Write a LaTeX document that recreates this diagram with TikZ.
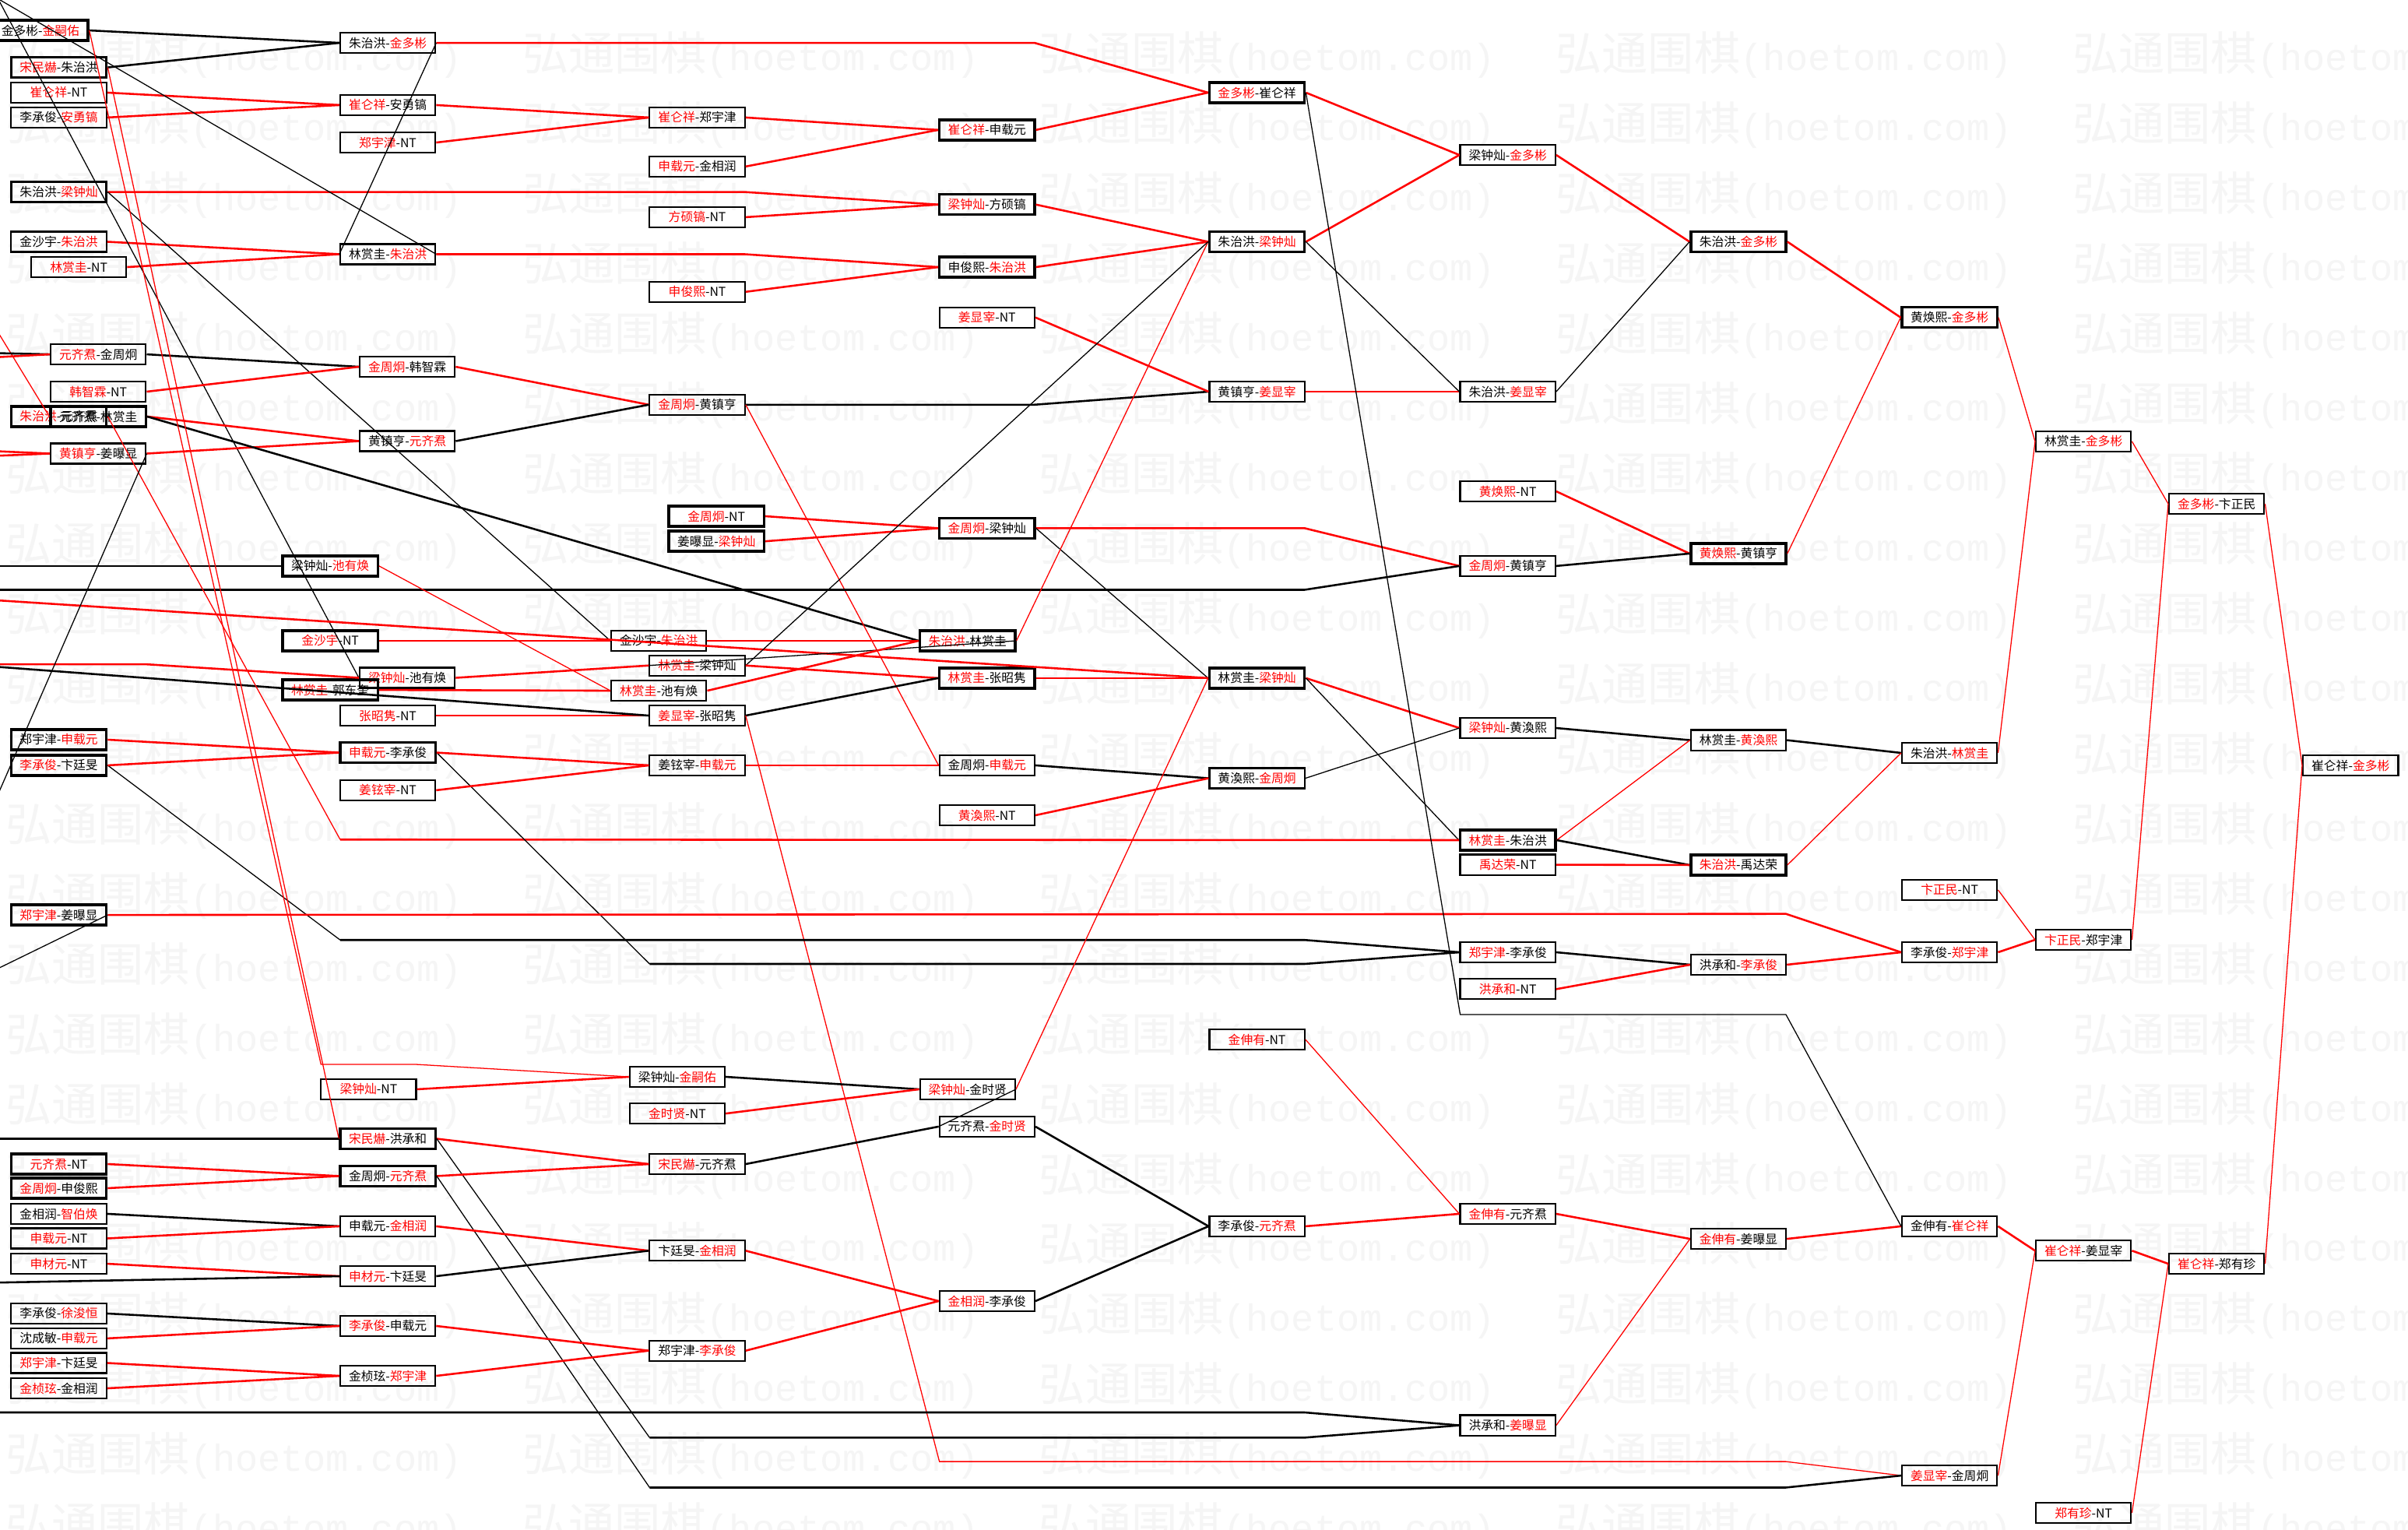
\documentclass[tikz,border=0pt]{standalone}
\usepackage{fontspec}
\setmainfont{Noto Sans CJK SC}
\newfontfamily\wmmono{Liberation Mono}
\newcommand\rnm[1]{\textcolor{red}{#1}}
\tikzset{
 bx/.style={draw=black, line width=1.1pt, minimum width=62pt, minimum height=13.2pt, inner sep=0pt, font=\fontsize{8}{9}\selectfont},
 bold/.style={line width=1.7pt},
 rk/.style={draw=red, line width=1.3pt},
 rt/.style={draw=red, line width=0.65pt},
 bk/.style={draw=black, line width=1.3pt},
 bt/.style={draw=black, line width=0.65pt},
 wm/.style={text=black!4, anchor=west, inner sep=0pt},
}
\begin{document}
\begin{tikzpicture}[x=1pt,y=-1pt]
\useasboundingbox (0,0) rectangle (1568,996);
\clip (0,0) rectangle (1568,996);
\fill[white] (0,0) rectangle (1568,996);
% watermark
\foreach \r in {0,...,21}{\foreach \c in {-1,...,4}{
 \node[wm] at ({3.5+336.5*\c},{36+45.6*\r}) {\fontsize{30}{30}\selectfont 弘通围棋{\wmmono\fontsize{24.6}{30}\selectfont (hoetom.com)}};}}
% ---------- nodes ----------
\node[bx,bold] (a1) at (26.3,19.8) {金多彬-\rnm{金嗣佑}};
\node[bx,bold] (a2) at (38.3,43.9) {\rnm{宋民爀}-朱治洪};
\node[bx] (a3) at (38.3,60.3) {\rnm{崔仑祥}-NT};
\node[bx] (a4) at (38.3,76.5) {李承俊-\rnm{安勇镐}};
\node[bx,bold] (a5) at (38.3,125) {朱治洪-\rnm{梁钟灿}};
\node[bx] (a6) at (38.3,157.4) {金沙宇-\rnm{朱治洪}};
\node[bx] (a7) at (51.3,173.9) {\rnm{林赏圭}-NT};
\node[bx] (a8) at (64,230.7) {\rnm{元齐焄}-金周炯};
\node[bx] (a9) at (64,255) {\rnm{韩智霖}-NT};
\node[bx,bold] (a10) at (38.3,271.2) {\rnm{朱治洪}-元齐焄};
\node[bx,bold] (a11) at (64,271.2) {元齐焄-林赏圭};
\node[bx] (a12) at (64,295.3) {\rnm{黄镇亨}-姜曝显};
\node[bx,bold] (a13) at (38.3,481.6) {郑宇津-\rnm{申载元}};
\node[bx,bold] (a14) at (38.3,498.3) {\rnm{李承俊}-卞廷旻};
\node[bx,bold] (a15) at (38.3,595.7) {\rnm{郑宇津}-姜曝显};
\node[bx,bold] (a16) at (38.3,757.9) {\rnm{元齐焄}-NT};
\node[bx,bold] (a17) at (38.3,773.6) {\rnm{金周炯}-申俊熙};
\node[bx] (a18) at (38.3,790.3) {金相润-\rnm{智伯焕}};
\node[bx] (a19) at (38.3,806.3) {\rnm{申载元}-NT};
\node[bx] (a20) at (38.3,822.8) {\rnm{申材元}-NT};
\node[bx] (a21) at (38.3,855.2) {李承俊-\rnm{徐浚恒}};
\node[bx] (a22) at (38.3,871.4) {沈成敏-\rnm{申载元}};
\node[bx] (a23) at (38.3,887.4) {\rnm{郑宇津}-卞廷旻};
\node[bx] (a24) at (38.3,903.9) {\rnm{金桢玹}-金相润};
\node[bx] (b1) at (252.5,27.9) {朱治洪-\rnm{金多彬}};
\node[bx] (b2) at (252.5,68.4) {\rnm{崔仑祥}-安勇镐};
\node[bx] (b3) at (252.5,92.8) {\rnm{郑宇津}-NT};
\node[bx] (b4) at (252.5,165.5) {林赏圭-\rnm{朱治洪}};
\node[bx] (b5) at (265.2,238.8) {\rnm{金周炯}-韩智霖};
\node[bx] (b6) at (265.2,287.2) {黄镇亨-\rnm{元齐焄}};
\node[bx,bold] (b7) at (215,368.5) {梁钟灿-\rnm{池有焕}};
\node[bx,bold] (b8) at (215,417.2) {\rnm{金沙宇}-NT};
\node[bx] (b9) at (265.2,441.3) {\rnm{梁钟灿}-池有焕};
\node[bx,bold] (b10) at (215,449.2) {\rnm{林赏圭}-郭东奎};
\node[bx] (b11) at (252.5,465.9) {\rnm{张昭隽}-NT};
\node[bx,bold] (b12) at (252.5,490) {\rnm{申载元}-李承俊};
\node[bx] (b13) at (252.5,514.5) {\rnm{姜铉宰}-NT};
\node[bx] (b14) at (240,709.2) {\rnm{梁钟灿}-NT};
\node[bx,bold] (b15) at (252.5,741.4) {\rnm{宋民爀}-洪承和};
\node[bx,bold] (b16) at (252.5,765.7) {金周炯-\rnm{元齐焄}};
\node[bx] (b17) at (252.5,798.4) {申载元-\rnm{金相润}};
\node[bx] (b18) at (252.5,830.9) {\rnm{申材元}-卞廷旻};
\node[bx] (b19) at (252.5,863.3) {\rnm{李承俊}-申载元};
\node[bx] (b20) at (252.5,895.8) {金桢玹-\rnm{郑宇津}};
\node[bx] (c1) at (454,76.5) {\rnm{崔仑祥}-郑宇津};
\node[bx] (c2) at (454,108.4) {\rnm{申载元}-金相润};
\node[bx] (c3) at (454,141.4) {\rnm{方硕镐}-NT};
\node[bx] (c4) at (454,190) {\rnm{申俊熙}-NT};
\node[bx] (c5) at (454,263.5) {\rnm{金周炯}-黄镇亨};
\node[bx,bold] (c6) at (466.5,336.1) {\rnm{金周炯}-NT};
\node[bx,bold] (c7) at (466.5,352.4) {姜曝显-\rnm{梁钟灿}};
\node[bx] (c8) at (429,417.2) {金沙宇-\rnm{朱治洪}};
\node[bx] (c9) at (454,433.3) {\rnm{林赏圭}-梁钟灿};
\node[bx] (c10) at (429,449.7) {\rnm{林赏圭}-池有焕};
\node[bx] (c11) at (454,465.9) {\rnm{姜显宰}-张昭隽};
\node[bx] (c12) at (454,498.3) {姜铉宰-\rnm{申载元}};
\node[bx] (c13) at (441,701.1) {梁钟灿-\rnm{金嗣佑}};
\node[bx] (c14) at (441,725) {\rnm{金时贤}-NT};
\node[bx] (c15) at (454,757.9) {\rnm{宋民爀}-元齐焄};
\node[bx] (c16) at (454,814.3) {卞廷旻-\rnm{金相润}};
\node[bx] (c17) at (454,879.4) {郑宇津-\rnm{李承俊}};
\node[bx,bold] (d1) at (642.7,84.6) {\rnm{崔仑祥}-申载元};
\node[bx,bold] (d2) at (642.7,133.2) {\rnm{梁钟灿}-方硕镐};
\node[bx,bold] (d3) at (642.7,173.9) {申俊熙-\rnm{朱治洪}};
\node[bx] (d4) at (642.7,206.7) {\rnm{姜显宰}-NT};
\node[bx,bold] (d5) at (642.7,343.9) {\rnm{金周炯}-梁钟灿};
\node[bx,bold] (d6) at (630,417.2) {\rnm{朱治洪}-林赏圭};
\node[bx,bold] (d7) at (642.7,441.5) {\rnm{林赏圭}-张昭隽};
\node[bx] (d8) at (642.7,498.3) {金周炯-\rnm{申载元}};
\node[bx] (d9) at (642.7,530.8) {\rnm{黄渙熙}-NT};
\node[bx] (d10) at (630,709.2) {\rnm{梁钟灿}-金时贤};
\node[bx] (d11) at (642.7,733.5) {元齐焄-\rnm{金时贤}};
\node[bx] (d12) at (642.7,847.1) {\rnm{金相润}-李承俊};
\node[bx,bold] (e1) at (818.5,60.3) {\rnm{金多彬}-崔仑祥};
\node[bx,bold] (e2) at (818.5,157.4) {朱治洪-\rnm{梁钟灿}};
\node[bx] (e3) at (818.5,255) {黄镇亨-\rnm{姜显宰}};
\node[bx,bold] (e4) at (818.5,441.5) {林赏圭-\rnm{梁钟灿}};
\node[bx] (e5) at (818.5,506.7) {黄渙熙-\rnm{金周炯}};
\node[bx] (e6) at (818.5,676.8) {\rnm{金伸有}-NT};
\node[bx] (e7) at (818.5,798.4) {李承俊-\rnm{元齐焄}};
\node[bx] (f1) at (981.8,100.9) {梁钟灿-\rnm{金多彬}};
\node[bx] (f2) at (981.8,255) {朱治洪-\rnm{姜显宰}};
\node[bx] (f3) at (981.8,319.9) {\rnm{黄焕熙}-NT};
\node[bx] (f4) at (981.8,368.5) {\rnm{金周炯}-黄镇亨};
\node[bx] (f5) at (981.8,474) {\rnm{梁钟灿}-黄渙熙};
\node[bx,bold] (f6) at (981.8,547) {\rnm{林赏圭}-朱治洪};
\node[bx] (f7) at (981.8,563) {\rnm{禹达荣}-NT};
\node[bx] (f8) at (981.8,620) {\rnm{郑宇津}-李承俊};
\node[bx] (f9) at (981.8,644) {\rnm{洪承和}-NT};
\node[bx] (f10) at (981.8,790.3) {\rnm{金伸有}-元齐焄};
\node[bx] (f11) at (981.8,928) {洪承和-\rnm{姜曝显}};
\node[bx,bold] (g1) at (1132,157.4) {朱治洪-\rnm{金多彬}};
\node[bx,bold] (g2) at (1132,360.4) {\rnm{黄焕熙}-黄镇亨};
\node[bx] (g3) at (1132,481.9) {林赏圭-\rnm{黄渙熙}};
\node[bx,bold] (g4) at (1132,563.2) {\rnm{朱治洪}-禹达荣};
\node[bx] (g5) at (1132,628.1) {洪承和-\rnm{李承俊}};
\node[bx] (g6) at (1132,806.6) {\rnm{金伸有}-姜曝显};
\node[bx,bold] (h1) at (1269.5,206.7) {黄焕熙-\rnm{金多彬}};
\node[bx] (h2) at (1269.5,490.2) {朱治洪-\rnm{林赏圭}};
\node[bx] (h3) at (1269.5,579.4) {\rnm{卞正民}-NT};
\node[bx] (h4) at (1269.5,620) {李承俊-\rnm{郑宇津}};
\node[bx] (h5) at (1269.5,798.4) {金伸有-\rnm{崔仑祥}};
\node[bx] (h6) at (1269.5,960.7) {\rnm{姜显宰}-金周炯};
\node[bx] (i1) at (1356.7,287.4) {林赏圭-\rnm{金多彬}};
\node[bx] (i2) at (1356.7,611.9) {\rnm{卞正民}-郑宇津};
\node[bx] (i3) at (1356.7,814.3) {\rnm{崔仑祥}-姜显宰};
\node[bx] (i4) at (1356.7,985) {\rnm{郑有珍}-NT};
\node[bx] (j1) at (1443.4,328) {\rnm{金多彬}-卞正民};
\node[bx] (j2) at (1443.4,822.8) {\rnm{崔仑祥}-郑有珍};
\node[bx] (k1) at (1530.6,498.3) {崔仑祥-\rnm{金多彬}};
% off-canvas ends
\coordinate (o1) at (-20,-11.7);
\coordinate (o2) at (-12,-21);
\coordinate (o3) at (-20,185.6);
\coordinate (o4) at (-20,229.5);
\coordinate (o5) at (-20,233.5);
\coordinate (o6) at (-20,293);
\coordinate (o7) at (-20,297.5);
\coordinate (o8) at (-20,368.5);
\coordinate (o9) at (-20,384);
\coordinate (o10) at (-20,389.7);
\coordinate (o11) at (-20,432.5);
\coordinate (o12) at (-20,432.8);
\coordinate (o13) at (-20,560);
\coordinate (o14) at (-20,639.7);
\coordinate (o15) at (-20,741.4);
\coordinate (o16) at (-20,835.4);
\coordinate (o17) at (-20,919.6);
% ---------- edges ----------
\draw[bk] (a1.east) -- (b1.west);
\draw[bk] (a2.east) -- (b1.west);
\draw[rk] (a3.east) -- (b2.west);
\draw[rk] (a4.east) -- (b2.west);
\draw[rk] (b2.east) -- (c1.west);
\draw[rk] (b3.east) -- (c1.west);
\draw[rk] (c1.east) -- (d1.west);
\draw[rk] (c2.east) -- (d1.west);
\draw[rk] (d1.east) -- (e1.west);
\draw[rk] (b1.east) -- (673.6,27.9) -- (e1.west);
\draw[rk] (a5.east) -- (484.7,125) -- (d2.west);
\draw[rk] (c3.east) -- (d2.west);
\draw[rk] (d2.east) -- (e2.west);
\draw[rk] (b4.east) -- (484.7,165.5) -- (d3.west);
\draw[rk] (c4.east) -- (d3.west);
\draw[rk] (d3.east) -- (e2.west);
\draw[rk] (a6.east) -- (b4.west);
\draw[rk] (a7.east) -- (b4.west);
\draw[bt] (b1.east) -- (b4.west);
\draw[bt] (b4.east) -- (o1);
\draw[bt] (o2) -- (b9.west);
\draw[bt] (a5.east) -- (c8.west);
\draw[bk] (a8.east) -- (b5.west);
\draw[rk] (a9.east) -- (b5.west);
\draw[rk] (b5.east) -- (c5.west);
\draw[bk] (b6.east) -- (c5.west);
\draw[rk] (a11.east) -- (b6.west);
\draw[rk] (a12.east) -- (b6.west);
\draw[bk] (a11.east) -- (d6.west);
\draw[bk] (c5.east) -- (673.6,263.5) -- (e3.west);
\draw[rt] (c5.east) -- (d8.west);
\draw[rk] (d4.east) -- (e3.west);
\draw[rk] (e3.east) -- (f2.west);
\draw[rk] (e1.east) -- (f1.west);
\draw[rk] (e2.east) -- (f1.west);
\draw[bt] (e2.east) -- (f2.west);
\draw[rk] (f1.east) -- (g1.west);
\draw[bt] (f2.east) -- (g1.west);
\draw[rk] (g1.east) -- (h1.west);
\draw[rt] (g2.east) -- (h1.west);
\draw[rk] (f3.east) -- (g2.west);
\draw[bk] (f4.east) -- (g2.west);
\draw[rt] (h1.east) -- (i1.west);
\draw[rt] (i1.east) -- (j1.west);
\draw[rt] (j1.east) -- (k1.west);
\draw[rk] (c6.east) -- (d5.west);
\draw[rk] (c7.east) -- (d5.west);
\draw[rk] (d5.east) -- (849.5,343.9) -- (f4.west);
\draw[bt] (d5.east) -- (e4.west);
\draw[bk] (o9) -- (849.5,384) -- (f4.west);
\draw[rk] (o10) -- (e4.west);
\draw[bk] (o8) -- (b7.west);
\draw[rt] (b7.east) -- (c10.west);
\draw[rk] (b8.east) -- (c8.west);
\draw[rk] (c8.east) -- (d6.west);
\draw[rt] (d6.east) -- (e2.west);
\draw[bt] (c9.east) -- (e2.west);
\draw[bt] (d6.east) -- (c9.west);
\draw[rk] (b9.east) -- (c9.west);
\draw[rk] (o11) -- (95.3,432.5) -- (b9.west);
\draw[rk] (b10.east) -- (c10.west);
\draw[rk] (c10.east) -- (d6.west);
\draw[rk] (c9.east) -- (d7.west);
\draw[rk] (d7.east) -- (e4.west);
\draw[rk] (b11.east) -- (c11.west);
\draw[bk] (o12) -- (c11.west);
\draw[bk] (c11.east) -- (d7.west);
\draw[rt] (c11.east) -- (611.7,951.6) -- (1162.9,951.6) -- (h6.west);
\draw[bk] (d8.east) -- (e5.west);
\draw[rk] (d9.east) -- (e5.west);
\draw[rk] (e4.east) -- (f5.west);
\draw[bt] (e4.east) -- (f6.west);
\draw[bt] (e5.east) -- (f5.west);
\draw[bk] (f5.east) -- (g3.west);
\draw[rt] (f6.east) -- (g3.west);
\draw[bk] (f6.east) -- (g4.west);
\draw[rk] (f7.east) -- (g4.west);
\draw[bk] (g3.east) -- (h2.west);
\draw[rt] (g4.east) -- (h2.west);
\draw[rt] (h2.east) -- (i1.west);
\draw[rt] (a10.east) -- (221.5,546.6);
\draw[rk] (221.5,546.6) -- (f6.west);
\draw[bt] (b12.east) -- (423,627.6);
\draw[bk] (423,627.6) -- (849.5,627.6) -- (f8.west);
\draw[bt] (a14.east) -- (221.5,612);
\draw[bk] (221.5,612) -- (849.5,612) -- (f8.west);
\draw[rk] (a15.east) -- (1162.9,595) -- (h4.west);
\draw[bk] (f8.east) -- (g5.west);
\draw[rk] (f9.east) -- (g5.west);
\draw[rk] (g5.east) -- (h4.west);
\draw[rt] (h3.east) -- (i2.west);
\draw[rk] (h4.east) -- (i2.west);
\draw[rt] (i2.east) -- (j1.west);
\draw[rk] (a13.east) -- (b12.west);
\draw[rk] (a14.east) -- (b12.west);
\draw[rk] (b12.east) -- (c12.west);
\draw[rk] (b13.east) -- (c12.west);
\draw[rk] (c12.east) -- (d8.west);
\draw[bt] (a12.east) -- (o13);
\draw[bt] (a15.east) -- (o14);
\draw[rt] (a1.east) -- (209,693) -- (270.8,693) -- (c13.west);
\draw[rt] (a2.east) -- (b15.west);
\draw[rk] (b14.east) -- (c13.west);
\draw[bk] (c13.east) -- (d10.west);
\draw[rk] (c14.east) -- (d10.west);
\draw[rt] (d10.east) -- (e4.west);
\draw[bt] (d10.east) -- (d11.west);
\draw[bk] (o15) -- (b15.west);
\draw[rk] (b15.east) -- (c15.west);
\draw[bt] (b15.east) -- (423,936);
\draw[bk] (423,936) -- (849.5,936) -- (f11.west);
\draw[rk] (a16.east) -- (b16.west);
\draw[rk] (a17.east) -- (b16.west);
\draw[rk] (b16.east) -- (c15.west);
\draw[bt] (b16.east) -- (423,968.5);
\draw[bk] (423,968.5) -- (1162.9,968.5) -- (h6.west);
\draw[bk] (c15.east) -- (d11.west);
\draw[bk] (d11.east) -- (e7.west);
\draw[bk] (a18.east) -- (b17.west);
\draw[rk] (a19.east) -- (b17.west);
\draw[rk] (a20.east) -- (b18.west);
\draw[bk] (o16) -- (b18.west);
\draw[rk] (b17.east) -- (c16.west);
\draw[bk] (b18.east) -- (c16.west);
\draw[rk] (c16.east) -- (d12.west);
\draw[bk] (a21.east) -- (b19.west);
\draw[rk] (a22.east) -- (b19.west);
\draw[rk] (a23.east) -- (b20.west);
\draw[rk] (a24.east) -- (b20.west);
\draw[rk] (b19.east) -- (c17.west);
\draw[rk] (b20.east) -- (c17.west);
\draw[rk] (c17.east) -- (d12.west);
\draw[bk] (d12.east) -- (e7.west);
\draw[rt] (e6.east) -- (f10.west);
\draw[rk] (e7.east) -- (f10.west);
\draw[rk] (f10.east) -- (g6.west);
\draw[bk] (o17) -- (849.5,919.6) -- (f11.west);
\draw[rt] (f11.east) -- (g6.west);
\draw[rk] (g6.east) -- (h5.west);
\draw[bt] (e1.east) -- (950.8,660.5) -- (1162.9,660.5) -- (h5.west);
\draw[rk] (h5.east) -- (i3.west);
\draw[rt] (h6.east) -- (i3.west);
\draw[rk] (i3.east) -- (j2.west);
\draw[rt] (i4.east) -- (j2.west);
\draw[rt] (j2.east) -- (k1.west);
\draw[rt] (o3) -- (a11.west);
\draw[bk] (o4) -- (a8.west);
\draw[rk] (o5) -- (a8.west);
\draw[rk] (o6) -- (a12.west);
\draw[rk] (o7) -- (a12.west);
\end{tikzpicture}
\end{document}
